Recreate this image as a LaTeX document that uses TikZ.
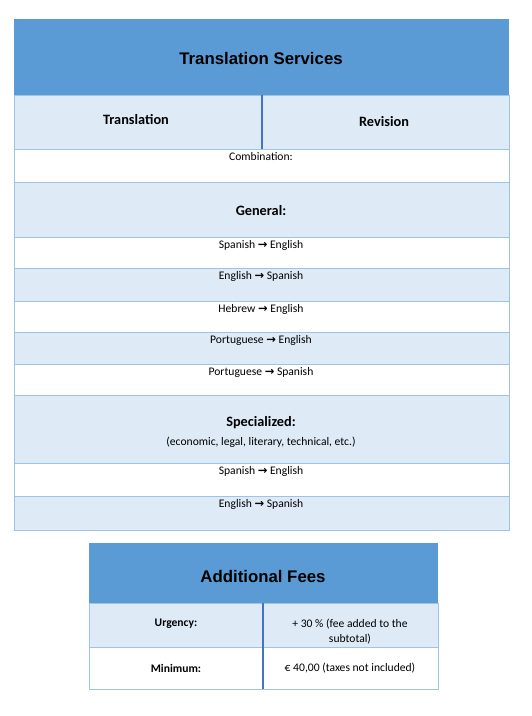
\documentclass[tikz,border=0pt]{standalone}
\usepackage{fontspec}
\setmainfont{Carlito}
\newfontfamily\hdfont{Liberation Sans}
\newfontfamily\arrfont{DejaVu Sans}
\definecolor{hdblue}{HTML}{5B9BD5}
\definecolor{lightrow}{HTML}{DEEAF6}
\definecolor{gridline}{HTML}{9DC3E6}
\definecolor{divider}{HTML}{4472C4}
\newcommand{\arr}{\ {\arrfont\bfseries\fontsize{11.5}{12}\selectfont →}\ }
\tikzset{
  hdcell/.style={fill=hdblue},
  ltcell/.style={fill=lightrow, draw=gridline, line width=0.9pt},
  wtcell/.style={fill=white, draw=gridline, line width=0.9pt},
  divline/.style={draw=divider, line width=2.2pt},
  hdtext/.style={font=\hdfont\bfseries\fontsize{16.8}{20}\selectfont, inner sep=0pt},
  subhd/.style={font=\bfseries\fontsize{14.3}{17}\selectfont, inner sep=0pt},
  body/.style={font=\fontsize{11.6}{15}\selectfont, inner sep=0pt, align=center},
  bodyb/.style={font=\bfseries\fontsize{11.6}{14}\selectfont, inner sep=0pt},
}
\begin{document}
\begin{tikzpicture}[x=1pt,y=-1pt]
\useasboundingbox[fill=white] (0,0) rectangle (532,716);
% top table
\path[hdcell] (14,19) rectangle (509,95);
\path[ltcell] (14,95) rectangle (509,149);
\path[wtcell] (14,149) rectangle (509,182);
\path[ltcell] (14,182) rectangle (509,237);
\path[wtcell] (14,237) rectangle (509,268);
\path[ltcell] (14,268) rectangle (509,301);
\path[wtcell] (14,301) rectangle (509,332);
\path[ltcell] (14,332) rectangle (509,364);
\path[wtcell] (14,364) rectangle (509,395);
\path[ltcell] (14,395) rectangle (509,463);
\path[wtcell] (14,463) rectangle (509,496);
\path[ltcell] (14,496) rectangle (509,530);
\coordinate (d1a) at (262,95);
\coordinate (d1b) at (262,149);
\draw[divline] (d1a) -- (d1b);

\node[hdtext] (ts) at (261,58) {Translation Services};
\node[subhd] (tr) at (136,120) {Translation};
\node[subhd] (rv) at (384,122) {Revision};
\node[body] (comb) at (261,157) {Combination:};
\node[subhd] (gen) at (261,211) {General:};
\node[body] (g1) at (261,245) {Spanish\arr English};
\node[body] (g2) at (261,276) {English\arr Spanish};
\node[body] (g3) at (261,309) {Hebrew\arr English};
\node[body] (g4) at (261,340) {Portuguese\arr English};
\node[body] (g5) at (261,372) {Portuguese\arr Spanish};
\node[subhd] (spec) at (261,423) {Specialized:};
\node[body] (specsub) at (261,442) {(economic, legal, literary, technical, etc.)};
\node[body] (s1) at (261,471) {Spanish\arr English};
\node[body] (s2) at (261,504) {English\arr Spanish};

% bottom table
\path[hdcell] (89,543) rectangle (438,603);
\path[ltcell] (89,603) rectangle (438,647);
\path[wtcell] (89,647) rectangle (438,689);
\coordinate (d2a) at (263,603);
\coordinate (d2b) at (263,689);
\draw[divline] (d2a) -- (d2b);

\node[hdtext] (af) at (263,576) {Additional Fees};
\node[bodyb] (urg) at (176,624) {Urgency:};
\node[body] (urgv) at (350,632) {+ 30 \% (fee added to the\\subtotal)};
\node[bodyb] (min) at (176,668) {Minimum:};
\node[body] (minv) at (350,668) {€ 40,00 (taxes not included)};
\end{tikzpicture}
\end{document}
